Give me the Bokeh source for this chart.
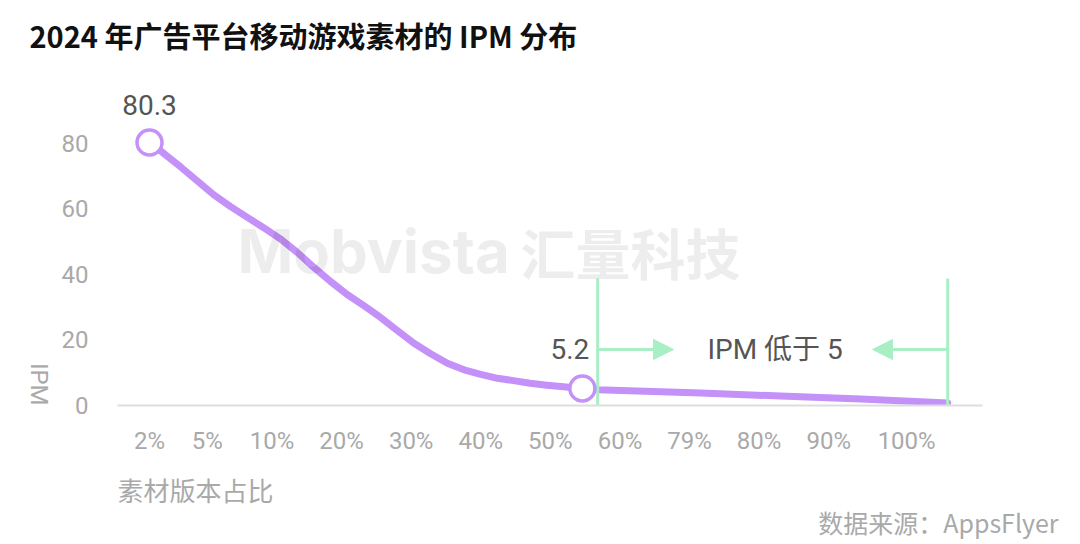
import math
from bokeh.plotting import figure
from bokeh.models import Range1d, FixedTicker, Label, Arrow, NormalHead, Title, LinearAxis
from bokeh.embed import file_html
from bokeh.resources import INLINE

# ---- data ----
tick_labels = ["2%", "5%", "10%", "20%", "30%", "40%", "50%", "60%", "79%", "80%", "90%", "100%"]
tick_pos = [0, 0.83, 1.76, 2.76, 3.76, 4.76, 5.76, 6.76, 7.76, 8.76, 9.76, 10.88]

curve_x = [0, 0.21, 0.45, 0.69, 0.92, 1.16, 1.40, 1.64, 1.88, 2.12, 2.36, 2.60, 2.84,
           3.08, 3.32, 3.56, 3.80, 4.04, 4.28, 4.52, 4.76, 5.00, 5.23, 5.47, 5.71,
           5.95, 6.22, 6.44, 7.92, 9.07, 10.22, 11.47]
curve_ipm = [80.3, 76.9, 72.8, 68.5, 64.4, 60.8, 57.5, 54.3, 50.9, 46.8, 42.2, 37.9, 33.9,
             30.5, 26.9, 22.9, 19.0, 15.8, 12.9, 10.9, 9.5, 8.3, 7.6, 6.8, 6.2,
             5.7, 5.2, 4.8, 3.8, 2.9, 2.0, 0.8]

hl_x = [0, 6.22]
hl_ipm = [80.3, 5.2]
hl_text = ["80.3", "5.2"]

y_ticks = [0, 20, 40, 60, 80]
region_start, region_end = 6.44, 11.47
region_text = "IPM 低于 5"

title_text = "2024 年广告平台移动游戏素材的 IPM 分布"
x_title = "素材版本占比"
x_title_pos = 0.66
y_title = "IPM"
source_text = "数据来源：AppsFlyer"

PURPLE = "#c391f8"
GREEN = "#a9efc6"
GRAY = "#a9a9a9"
DARK = "#555555"
LATIN = "Roboto, 'Noto Sans CJK SC'"
CJK = "'Noto Sans CJK SC'"


def bare_axis(ax):
    ax.major_tick_line_color = None
    ax.minor_tick_line_color = None
    ax.major_tick_out = 0
    ax.minor_tick_out = 0


p = figure(width=1080, height=544, output_backend="svg", toolbar_location=None,
           x_range=Range1d(-0.46, 11.97), y_range=Range1d(0, 102.9),
           min_border_left=117, min_border_right=98, min_border_top=68, min_border_bottom=139)
p.outline_line_color = None
p.background_fill_color = "white"
p.border_fill_color = "white"
p.xgrid.visible = False
p.ygrid.visible = False

# title
p.title.text = title_text
p.title.align = "left"
p.title.offset = -88
p.title.vertical_align = "middle"
p.title.standoff = 23
p.title.text_font = CJK
p.title.text_font_style = "bold"
p.title.text_font_size = "29px"
p.title.text_color = "#111111"

# x axis
xa = p.xaxis[0]
bare_axis(xa)
xa.ticker = FixedTicker(ticks=tick_pos)
xa.major_label_overrides = {t: l for t, l in zip(tick_pos, tick_labels)}
xa.axis_line_color = "#dddddd"
xa.axis_line_width = 2
xa.major_label_text_font = "Roboto"
xa.major_label_text_font_size = "24px"
xa.major_label_text_color = GRAY
xa.major_label_standoff = 21

# x-axis title, left-aligned under the axis
xa2 = LinearAxis(ticker=FixedTicker(ticks=[x_title_pos]),
                 major_label_overrides={x_title_pos: x_title},
                 axis_line_color=None, major_label_text_font=CJK,
                 major_label_text_font_size="26px", major_label_text_color=GRAY,
                 major_label_standoff=13)
bare_axis(xa2)
p.add_layout(xa2, "below")

# y axis
ya = p.yaxis[0]
bare_axis(ya)
ya.ticker = FixedTicker(ticks=y_ticks)
ya.axis_line_color = None
ya.major_label_text_font = "Roboto"
ya.major_label_text_font_size = "24px"
ya.major_label_text_color = GRAY
ya.major_label_standoff = 29

# y-axis title near the bottom of the axis, reading downwards
ya2 = LinearAxis(ticker=FixedTicker(ticks=[y_ticks[0]]),
                 major_label_overrides={y_ticks[0]: y_title},
                 major_label_orientation=-math.pi / 2, axis_line_color=None,
                 major_label_text_font="Roboto", major_label_text_font_size="24px",
                 major_label_text_color=GRAY, major_label_standoff=20)
bare_axis(ya2)
p.add_layout(ya2, "left")

# source
src = Title(text=source_text, align="right", offset=-76, vertical_align="top",
            text_font=CJK, text_font_style="normal", text_font_size="25px", text_color=GRAY)
try:
    src.standoff = -14
except Exception:
    src.standoff = 0
p.add_layout(src, "below")

# curve
p.line(curve_x, curve_ipm, line_color=PURPLE, line_width=7, line_join="round", line_cap="round")

# region markers
p.segment(x0=[region_start, region_end], y0=[0, 0], x1=[region_start, region_end], y1=[38.8, 38.8],
          line_color=GREEN, line_width=3)
p.add_layout(Arrow(x_start=region_start, y_start=17.1, x_end=7.53, y_end=17.1,
                   line_color=GREEN, line_width=3,
                   end=NormalHead(size=20, fill_color=GREEN, line_color=GREEN)))
p.add_layout(Arrow(x_start=region_end, y_start=17.1, x_end=10.39, y_end=17.1,
                   line_color=GREEN, line_width=3,
                   end=NormalHead(size=20, fill_color=GREEN, line_color=GREEN)))
p.add_layout(Label(x=8.99, y=17.1, text=region_text, text_align="center", text_baseline="middle",
                   text_font=LATIN, text_font_size="28px", text_color=DARK))

# highlighted points
p.scatter(hl_x, hl_ipm, size=25, fill_color="white", line_color=PURPLE, line_width=3.5)
p.add_layout(Label(x=hl_x[0], y=hl_ipm[0], y_offset=38, text=hl_text[0], text_align="center",
                   text_baseline="middle", text_font=LATIN, text_font_size="28px", text_color=DARK))
p.add_layout(Label(x=hl_x[1], y=hl_ipm[1], x_offset=7, y_offset=39, text=hl_text[1], text_align="right",
                   text_baseline="middle", text_font=LATIN, text_font_size="28px", text_color=DARK))

# watermark
p.add_layout(Label(x=3.22, y=47.3, text="Mobvista", text_align="center", text_baseline="middle",
                   text_font="Inter", text_font_style="bold", text_font_size="60px",
                   text_color="black", text_alpha=0.07))
p.add_layout(Label(x=6.91, y=47.3, text="汇量科技", text_align="center", text_baseline="middle",
                   text_font=CJK, text_font_style="bold", text_font_size="55px",
                   text_color="black", text_alpha=0.07))

open("out.html", "w").write(file_html(p, INLINE))
